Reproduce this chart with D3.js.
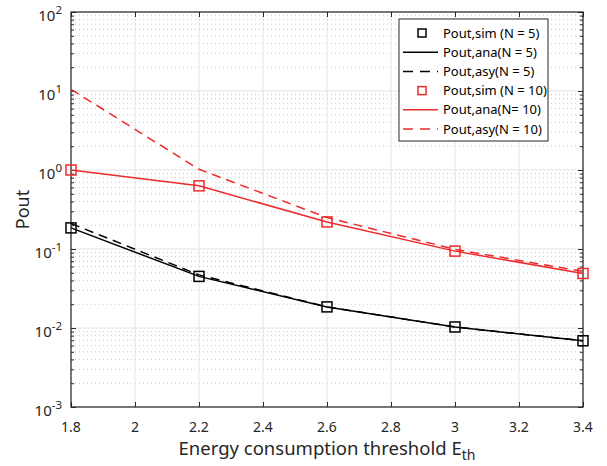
<!DOCTYPE html>
<html lang="en">
<head>
<meta charset="UTF-8">
<title>Pout vs energy threshold</title>
<style>
    body { margin: 0; background: #fff; font-family: 'Noto Sans', sans-serif; }
    .grid-major line { stroke: #e3e3e3; stroke-width: 1; }
    .grid-minor line { stroke: #c8c8c8; stroke-width: 1; stroke-dasharray: 1 3; }
    .tick-label { font-size: 14px; fill: #262626; }
</style>
</head>
<body>
<div id="chart"></div>
<script src="https://d3js.org/d3.v7.min.js"></script>
<script>
    const thresholds = [1.8, 2.2, 2.6, 3.0, 3.4];
    const simN5 = [0.185, 0.045, 0.0185, 0.0103, 0.0069];
    const anaN5 = [0.185, 0.045, 0.0185, 0.0103, 0.0069];
    const asyN5 = [0.21, 0.047, 0.0185, 0.0103, 0.0069];
    const simN10 = [1.0, 0.63, 0.22, 0.094, 0.049];
    const anaN10 = [1.0, 0.63, 0.22, 0.094, 0.049];
    const asyN10 = [10.5, 1.02, 0.25, 0.099, 0.052];
    const xTicks = [1.8, 2, 2.2, 2.4, 2.6, 2.8, 3, 3.2, 3.4];
    const yDecades = [-3, -2, -1, 0, 1, 2];
    const legendLabels = ['Pout,sim (N = 5)', 'Pout,ana(N = 5)', 'Pout,asy(N = 5)',
                          'Pout,sim (N = 10)', 'Pout,ana(N= 10)', 'Pout,asy(N = 10)'];

    const width = 607, height = 466;
    const margin = { left: 71, top: 12, right: 24, bottom: 59 };
    const iw = width - margin.left - margin.right;
    const ih = height - margin.top - margin.bottom;

    const svg = d3.select('#chart').append('svg')
        .attr('width', width).attr('height', height);
    const g = svg.append('g').attr('transform', `translate(${margin.left},${margin.top})`);

    const x = d3.scaleLinear().domain([1.8, 3.4]).range([0, iw]);
    const y = d3.scaleLog().domain([1e-3, 1e2]).range([ih, 0]);

    // minor grid (dotted)
    const minorVals = [];
    yDecades.slice(0, -1).forEach(e => {
        for (let k = 2; k <= 9; k++) minorVals.push(k * Math.pow(10, e));
    });
    g.append('g').attr('class', 'grid-minor')
        .selectAll('line').data(minorVals).enter().append('line')
        .attr('x1', 0).attr('x2', iw)
        .attr('y1', d => y(d)).attr('y2', d => y(d));

    // major grid
    const major = g.append('g').attr('class', 'grid-major');
    major.selectAll('.gx').data(xTicks).enter().append('line')
        .attr('x1', d => x(d)).attr('x2', d => x(d)).attr('y1', 0).attr('y2', ih);
    major.selectAll('.gy').data(yDecades).enter().append('line')
        .attr('x1', 0).attr('x2', iw)
        .attr('y1', d => y(Math.pow(10, d))).attr('y2', d => y(Math.pow(10, d)));

    // axes with ticks on all sides
    const tickLen = 5;
    const axisStyle = a => {
        a.select('.domain').remove();
        a.selectAll('line').attr('stroke', '#262626');
        a.selectAll('text').remove();
    };
    g.append('g').attr('transform', `translate(0,${ih})`)
        .call(d3.axisBottom(x).tickValues(xTicks).tickSize(-tickLen)).call(axisStyle);
    g.append('g')
        .call(d3.axisTop(x).tickValues(xTicks).tickSize(-tickLen)).call(axisStyle);
    const yMajorVals = yDecades.map(e => Math.pow(10, e));
    g.append('g')
        .call(d3.axisLeft(y).tickValues(yMajorVals).tickSize(-tickLen)).call(axisStyle);
    g.append('g').attr('transform', `translate(${iw},0)`)
        .call(d3.axisRight(y).tickValues(yMajorVals).tickSize(-tickLen)).call(axisStyle);
    g.append('g')
        .call(d3.axisLeft(y).tickValues(minorVals).tickSize(-3)).call(axisStyle);
    g.append('g').attr('transform', `translate(${iw},0)`)
        .call(d3.axisRight(y).tickValues(minorVals).tickSize(-3)).call(axisStyle);

    g.append('rect').attr('width', iw).attr('height', ih)
        .attr('fill', 'none').attr('stroke', '#262626').attr('stroke-width', 1.2);

    // tick labels
    g.selectAll('.xl').data(xTicks).enter().append('text')
        .attr('class', 'tick-label')
        .attr('x', d => x(d)).attr('y', ih + 25)
        .attr('text-anchor', 'middle')
        .text(d => d3.format('~g')(d));
    const yl = g.selectAll('.yl').data(yDecades).enter().append('text')
        .attr('class', 'tick-label')
        .attr('x', -9).attr('y', d => y(Math.pow(10, d)) + 9)
        .attr('text-anchor', 'end')
        .style('font-size', '15px');
    yl.append('tspan').text('10');
    yl.append('tspan').attr('dy', -7).attr('font-size', '11.5px').text(d => d);

    // axis labels
    const xlab = svg.append('text')
        .attr('x', margin.left + iw / 2).attr('y', 455)
        .attr('text-anchor', 'middle').attr('font-size', '18.5px').attr('fill', '#262626');
    xlab.append('tspan').text('Energy consumption threshold E');
    xlab.append('tspan').attr('dy', 5).attr('font-size', '14px').text('th');
    svg.append('text')
        .attr('transform', `translate(29,${margin.top + ih / 2}) rotate(-90)`)
        .attr('text-anchor', 'middle').attr('font-size', '18px').attr('fill', '#262626')
        .text('Pout');

    // series
    const line = d3.line().x((d, i) => x(thresholds[i])).y(d => y(d));
    const plotArea = g.append('g');
    const series = [
        { vals: anaN5, color: '#000', dash: null },
        { vals: asyN5, color: '#000', dash: '9 6' },
        { vals: anaN10, color: '#ee2a2a', dash: null },
        { vals: asyN10, color: '#ee2a2a', dash: '9 6' }
    ];
    series.forEach(s => {
        plotArea.append('path').datum(s.vals)
            .attr('d', line).attr('fill', 'none')
            .attr('stroke', s.color).attr('stroke-width', 1.5)
            .attr('stroke-dasharray', s.dash);
    });
    [{ vals: simN5, color: '#000' }, { vals: simN10, color: '#ee2a2a' }].forEach(s => {
        plotArea.selectAll(null).data(s.vals).enter().append('rect')
            .attr('x', (d, i) => x(thresholds[i]) - 5)
            .attr('y', d => y(d) - 5)
            .attr('width', 10).attr('height', 10)
            .attr('fill', 'none').attr('stroke', s.color).attr('stroke-width', 1.5);
    });

    // legend
    const lg = svg.append('g').attr('transform', 'translate(399,19)');
    lg.append('rect').attr('width', 149).attr('height', 122)
        .attr('fill', '#fff').attr('stroke', '#262626').attr('stroke-width', 1);
    const legendStyle = [
        { color: '#000', type: 'marker' }, { color: '#000', type: 'solid' },
        { color: '#000', type: 'dash' }, { color: '#ee2a2a', type: 'marker' },
        { color: '#ee2a2a', type: 'solid' }, { color: '#ee2a2a', type: 'dash' }
    ];
    legendLabels.forEach((lab, i) => {
        const cy = 14 + i * 19.2;
        const st = legendStyle[i];
        if (st.type === 'marker') {
            lg.append('rect').attr('x', 19).attr('y', cy - 4).attr('width', 8).attr('height', 8)
                .attr('fill', 'none').attr('stroke', st.color).attr('stroke-width', 1.5);
        } else {
            lg.append('line').attr('x1', 4).attr('x2', 39).attr('y1', cy).attr('y2', cy)
                .attr('stroke', st.color).attr('stroke-width', 1.5)
                .attr('stroke-dasharray', st.type === 'dash' ? '10 7' : null);
        }
        lg.append('text').attr('x', 44).attr('y', cy + 4.5)
            .attr('font-size', '13px').attr('fill', '#000').text(lab);
    });
</script>
</body>
</html>
